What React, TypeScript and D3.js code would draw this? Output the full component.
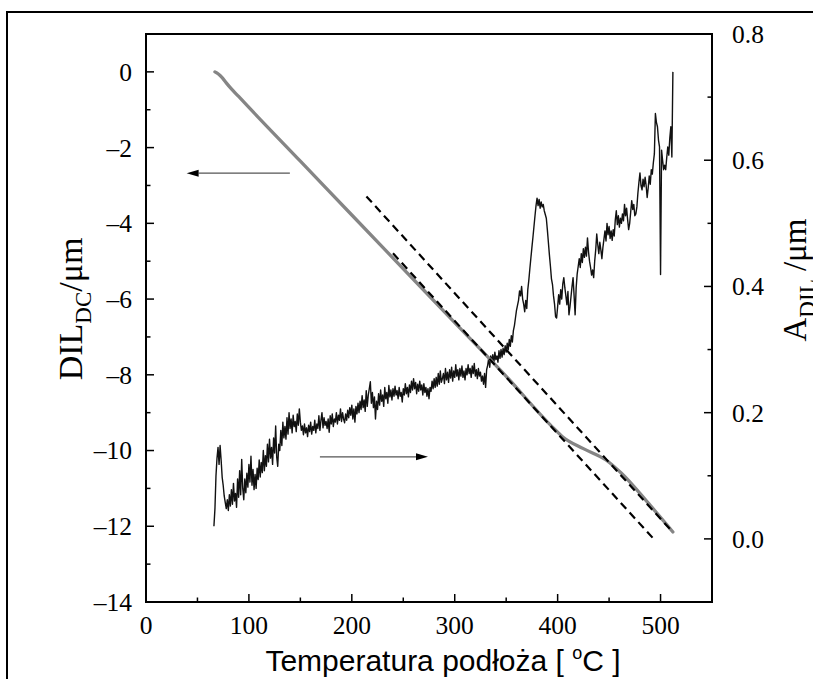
import React from "react";
import * as d3 from "d3";

// ---- axis ticks ----
const xTickValues = [0, 100, 200, 300, 400, 500];
const xMinorTicks = [50, 150, 250, 350, 450];
const leftTickValues = [0, -2, -4, -6, -8, -10, -12, -14];
const leftMinorTicks = [-1, -3, -5, -7, -9, -11, -13];
const rightTickValues = [0.0, 0.2, 0.4, 0.6, 0.8];
const rightMinorTicks = [0.1, 0.3, 0.5, 0.7];

// ---- DIL_DC (left axis, grey curve) ----
const dilTemp = [67, 70, 74, 78, 83, 90, 100, 150, 200, 250, 300, 350, 395, 405, 425, 447, 462, 490, 512];
const dilValue = [0, -0.05, -0.15, -0.29, -0.45, -0.65, -0.94, -2.36, -3.78, -5.2, -6.62, -8.04, -9.38, -9.64, -9.95, -10.25, -10.6, -11.45, -12.15];

// ---- dashed tangent lines (left axis) ----
const fitUpperTemp = [214.2, 511.7];
const fitUpperValue = [-3.29, -12.15];
const fitLowerTemp = [240, 494.2];
const fitLowerValue = [-4.79, -12.36];

// ---- A_DIL (right axis, black noisy signal), sampled every 1 °C from 66 °C ----
const aStartTemp = 66;
const aValues = [
  0.020, 0.048, 0.100, 0.128, 0.145, 0.118, 0.148, 0.125, 0.098, 0.085,
  0.068, 0.058, 0.048, 0.062, 0.045, 0.070, 0.052, 0.078, 0.055, 0.088,
  0.060, 0.072, 0.050, 0.095, 0.066, 0.108, 0.070, 0.126, 0.080, 0.062,
  0.095, 0.073, 0.104, 0.082, 0.118, 0.090, 0.131, 0.085, 0.110, 0.078,
  0.102, 0.080, 0.112, 0.094, 0.125, 0.098, 0.121, 0.105, 0.140, 0.108,
  0.132, 0.115, 0.150, 0.122, 0.158, 0.128, 0.145, 0.118, 0.160, 0.136,
  0.179, 0.130, 0.115, 0.150, 0.140, 0.172, 0.148, 0.185, 0.160, 0.178,
  0.158, 0.192, 0.166, 0.200, 0.175, 0.190, 0.168, 0.196, 0.178, 0.186,
  0.170, 0.198, 0.180, 0.206, 0.185, 0.172, 0.179, 0.165, 0.182, 0.168,
  0.176, 0.162, 0.180, 0.170, 0.185, 0.166, 0.178, 0.172, 0.188, 0.168,
  0.182, 0.175, 0.195, 0.172, 0.188, 0.200, 0.176, 0.192, 0.180, 0.186,
  0.175, 0.190, 0.169, 0.195, 0.182, 0.198, 0.178, 0.190, 0.185, 0.200,
  0.182, 0.196, 0.188, 0.206, 0.186, 0.200, 0.190, 0.184, 0.198, 0.188,
  0.204, 0.192, 0.208, 0.196, 0.212, 0.190, 0.206, 0.185, 0.210, 0.198,
  0.215, 0.200, 0.218, 0.205, 0.227, 0.208, 0.220, 0.202, 0.235, 0.210,
  0.228, 0.238, 0.249, 0.215, 0.232, 0.208, 0.225, 0.190, 0.218, 0.205,
  0.230, 0.212, 0.236, 0.218, 0.228, 0.210, 0.240, 0.222, 0.232, 0.215,
  0.243, 0.225, 0.236, 0.220, 0.238, 0.226, 0.242, 0.228, 0.235, 0.222,
  0.240, 0.226, 0.232, 0.217, 0.238, 0.228, 0.246, 0.230, 0.240, 0.225,
  0.244, 0.232, 0.250, 0.236, 0.254, 0.238, 0.248, 0.230, 0.245, 0.234,
  0.250, 0.236, 0.244, 0.228, 0.246, 0.232, 0.240, 0.226, 0.238, 0.222,
  0.240, 0.234, 0.250, 0.238, 0.254, 0.240, 0.256, 0.242, 0.262, 0.245,
  0.266, 0.248, 0.254, 0.262, 0.246, 0.270, 0.252, 0.264, 0.248, 0.268,
  0.255, 0.272, 0.250, 0.266, 0.256, 0.276, 0.258, 0.268, 0.252, 0.270,
  0.258, 0.274, 0.256, 0.266, 0.252, 0.270, 0.260, 0.276, 0.262, 0.270,
  0.256, 0.274, 0.262, 0.278, 0.258, 0.268, 0.254, 0.270, 0.258, 0.264,
  0.250, 0.258, 0.245, 0.262, 0.240, 0.268, 0.275, 0.286, 0.272, 0.290,
  0.280, 0.292, 0.278, 0.296, 0.284, 0.290, 0.280, 0.298, 0.286, 0.300,
  0.288, 0.302, 0.292, 0.306, 0.296, 0.310, 0.300, 0.316, 0.305, 0.322,
  0.312, 0.330, 0.338, 0.350, 0.362, 0.370, 0.378, 0.393, 0.385, 0.400,
  0.380, 0.372, 0.360, 0.378, 0.365, 0.395, 0.410, 0.428, 0.445, 0.462,
  0.478, 0.495, 0.512, 0.528, 0.540, 0.528, 0.538, 0.524, 0.534, 0.526,
  0.530, 0.520, 0.514, 0.508, 0.490, 0.470, 0.450, 0.432, 0.412, 0.403,
  0.385, 0.372, 0.352, 0.350, 0.368, 0.387, 0.372, 0.395, 0.380, 0.404,
  0.414, 0.398, 0.385, 0.371, 0.392, 0.355, 0.368, 0.384, 0.400, 0.414,
  0.385, 0.355, 0.398, 0.420, 0.432, 0.444, 0.430, 0.452, 0.438, 0.460,
  0.446, 0.462, 0.448, 0.477, 0.455, 0.440, 0.430, 0.418, 0.426, 0.414,
  0.440, 0.458, 0.483, 0.466, 0.452, 0.470, 0.458, 0.444, 0.462, 0.475,
  0.488, 0.472, 0.500, 0.482, 0.495, 0.476, 0.488, 0.473, 0.490, 0.480,
  0.505, 0.520, 0.498, 0.512, 0.494, 0.508, 0.500, 0.515, 0.504, 0.530,
  0.512, 0.524, 0.506, 0.490, 0.500, 0.518, 0.536, 0.522, 0.530, 0.512,
  0.515, 0.526, 0.548, 0.565, 0.580, 0.560, 0.553, 0.570, 0.558, 0.573,
  0.560, 0.541, 0.556, 0.575, 0.562, 0.585, 0.578, 0.596, 0.610, 0.674,
  0.660, 0.653, 0.632, 0.621, 0.419, 0.616, 0.600, 0.585, 0.592, 0.585,
  0.604, 0.621, 0.608, 0.635, 0.653, 0.605, 0.740,
];
const aTemp = aValues.map((_, i) => aStartTemp + i);

// ---- direction arrows (data units) ----
const leftArrowTemp = [139.8, 39.5];
const leftArrowValue = -2.675; // left axis units
const rightArrowTemp = [169, 274];
const rightArrowValue = 0.13; // right axis units

const W = 813;
const H = 679;
const plot = { left: 146, right: 712, top: 34, bottom: 602 };

const serif = "'Liberation Serif', 'Times New Roman', 'DejaVu Serif', serif";
const sans = "'Liberation Sans', Arial, 'DejaVu Sans', sans-serif";
const dash = "\u2013";

function fmtLeft(v: number) {
  return v < 0 ? dash + Math.abs(v) : String(v);
}

export default function App() {
  const x = d3.scaleLinear().domain([0, 550]).range([plot.left, plot.right]);
  const yL = d3.scaleLinear().domain([-14, 1]).range([plot.bottom, plot.top]);
  const yR = d3.scaleLinear().domain([-0.1, 0.8]).range([plot.bottom, plot.top]);

  const dilLine = d3
    .line<number>()
    .x((_, i) => x(dilTemp[i]))
    .y((d) => yL(d))
    .curve(d3.curveMonotoneX);
  const aLine = d3
    .line<number>()
    .x((_, i) => x(aTemp[i]))
    .y((d) => yR(d));
  const seg = d3
    .line<[number, number]>()
    .x((d) => x(d[0]))
    .y((d) => yL(d[1]));

  const majorLen = 8;
  const minorLen = 4.5;
  const tickFont = 25.5;

  const la = { x1: x(leftArrowTemp[0]), x2: x(leftArrowTemp[1]), y: yL(leftArrowValue) };
  const ra = { x1: x(rightArrowTemp[0]), x2: x(rightArrowTemp[1]), y: yR(rightArrowValue) };
  const headL = 12;
  const headH = 3.5;

  return (
    <svg
      width={W}
      height={H}
      style={{ position: "absolute", left: 0, top: 0, background: "#fff" }}
    >
      <rect x={0} y={0} width={W} height={H} fill="#fff" />
      {/* outer frame */}
      <rect x={7} y={12} width={900} height={800} fill="none" stroke="#000" strokeWidth={2} />

      {/* A_DIL noisy signal */}
      <path d={aLine(aValues) || ""} fill="none" stroke="#111" strokeWidth={1.4} strokeLinejoin="round" />

      {/* DIL_DC grey curve */}
      <path d={dilLine(dilValue) || ""} fill="none" stroke="#858585" strokeWidth={3.3} strokeLinecap="round" />

      {/* dashed fits */}
      <path
        d={seg([[fitUpperTemp[0], fitUpperValue[0]], [fitUpperTemp[1], fitUpperValue[1]]]) || ""}
        fill="none"
        stroke="#000"
        strokeWidth={2.2}
        strokeDasharray="8,5"
      />
      <path
        d={seg([[fitLowerTemp[0], fitLowerValue[0]], [fitLowerTemp[1], fitLowerValue[1]]]) || ""}
        fill="none"
        stroke="#000"
        strokeWidth={2.2}
        strokeDasharray="8,5"
      />

      {/* arrows */}
      <line x1={la.x1} x2={la.x2 + headL} y1={la.y} y2={la.y} stroke="#555" strokeWidth={1.2} />
      <polygon
        points={`${la.x2},${la.y} ${la.x2 + headL},${la.y - headH} ${la.x2 + headL},${la.y + headH}`}
        fill="#000"
      />
      <line x1={ra.x1} x2={ra.x2 - headL} y1={ra.y} y2={ra.y} stroke="#555" strokeWidth={1.2} />
      <polygon
        points={`${ra.x2},${ra.y} ${ra.x2 - headL},${ra.y - headH} ${ra.x2 - headL},${ra.y + headH}`}
        fill="#000"
      />

      {/* plot frame */}
      <rect
        x={plot.left}
        y={plot.top}
        width={plot.right - plot.left}
        height={plot.bottom - plot.top}
        fill="none"
        stroke="#000"
        strokeWidth={2}
      />

      {/* bottom ticks */}
      {xTickValues.map((v) => (
        <g key={"xt" + v}>
          <line x1={x(v)} x2={x(v)} y1={plot.bottom} y2={plot.bottom - majorLen} stroke="#000" strokeWidth={1.5} />
          <text x={x(v)} y={634} textAnchor="middle" fontFamily={serif} fontSize={tickFont}>
            {v}
          </text>
        </g>
      ))}
      {xMinorTicks.map((v) => (
        <line key={"xm" + v} x1={x(v)} x2={x(v)} y1={plot.bottom} y2={plot.bottom - minorLen} stroke="#000" strokeWidth={1.5} />
      ))}

      {/* left ticks */}
      {leftTickValues.map((v) => (
        <g key={"lt" + v}>
          <line x1={plot.left} x2={plot.left + majorLen} y1={yL(v)} y2={yL(v)} stroke="#000" strokeWidth={1.5} />
          <text x={132} y={yL(v)} dy="0.35em" textAnchor="end" fontFamily={serif} fontSize={tickFont}>
            {fmtLeft(v)}
          </text>
        </g>
      ))}
      {leftMinorTicks.map((v) => (
        <line key={"lm" + v} x1={plot.left} x2={plot.left + minorLen} y1={yL(v)} y2={yL(v)} stroke="#000" strokeWidth={1.5} />
      ))}

      {/* right ticks */}
      {rightTickValues.map((v) => (
        <g key={"rt" + v}>
          <line x1={plot.right} x2={plot.right - majorLen} y1={yR(v)} y2={yR(v)} stroke="#000" strokeWidth={1.5} />
          <text x={732} y={yR(v)} dy="0.35em" textAnchor="start" fontFamily={serif} fontSize={tickFont}>
            {v.toFixed(1)}
          </text>
        </g>
      ))}
      {rightMinorTicks.map((v) => (
        <line key={"rm" + v} x1={plot.right} x2={plot.right - minorLen} y1={yR(v)} y2={yR(v)} stroke="#000" strokeWidth={1.5} />
      ))}

      {/* axis titles */}
      <text
        transform={`translate(82,309) rotate(-90)`}
        textAnchor="middle"
        fontFamily={serif}
        fontSize={34}
      >
        DIL
        <tspan fontSize={23} dy={9}>DC</tspan>
        <tspan dy={-9}>/μm</tspan>
      </text>
      <text
        transform={`translate(806,280) rotate(-90)`}
        textAnchor="middle"
        fontFamily={serif}
        fontSize={33}
      >
        A
        <tspan fontSize={23} dy={9}>DIL</tspan>
        <tspan dy={-9}> /μm</tspan>
      </text>
      <text x={443} y={671} textAnchor="middle" fontFamily={sans} fontSize={30}>
        Temperatura podłoża [ <tspan fontSize={18} dy={-12}>o</tspan>
        <tspan dy={12}>C ]</tspan>
      </text>
    </svg>
  );
}
